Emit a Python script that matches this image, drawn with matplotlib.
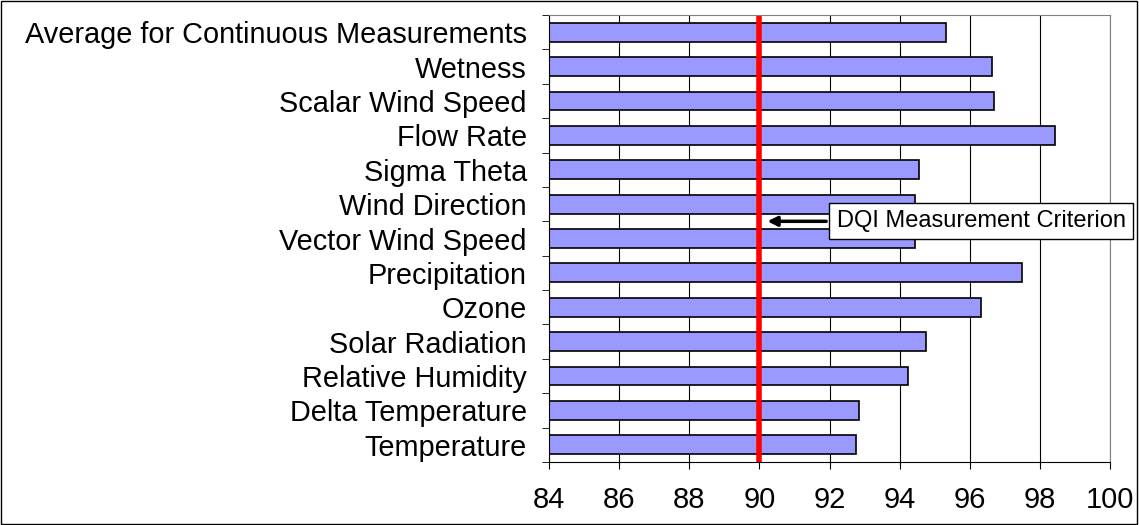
import matplotlib
matplotlib.use("Agg")
import matplotlib.pyplot as plt

categories = ["Temperature", "Delta Temperature", "Relative Humidity", "Solar Radiation",
              "Ozone", "Precipitation", "Vector Wind Speed", "Wind Direction",
              "Sigma Theta", "Flow Rate", "Scalar Wind Speed", "Wetness",
              "Average for Continuous Measurements"]
values = [92.75, 92.84, 94.24, 94.76, 96.31, 97.49, 94.45, 94.45,
          94.56, 98.43, 96.68, 96.63, 95.31]
criterion = 90

plt.rcParams['font.family'] = ['Liberation Sans', 'DejaVu Sans']
fig = plt.figure(figsize=(11.39, 5.25), dpi=100)
ax = fig.add_axes([549/1139, 1-462/525, (1110-549)/1139, (462-15)/525])
ax.set_axisbelow(True)
ax.xaxis.grid(True, color='black', linewidth=0.8)
y = list(range(len(categories)))
ax.barh(y, [v-84 for v in values], left=84, height=0.55, color='#9999ff', edgecolor='black', linewidth=1.2)
ax.set_xlim(84, 100)
ax.set_ylim(-0.5, len(categories)-0.5)
ax.set_xticks(range(84, 101, 2))
ax.set_yticks(y)
ax.set_yticklabels(categories)
ax.set_yticks([i+0.5 for i in range(-1, len(categories))], minor=True)
ax.tick_params(axis='y', which='major', length=0, labelsize=20.8, pad=16)
ax.tick_params(axis='y', which='minor', length=5)
ax.tick_params(axis='x', labelsize=21, length=5, pad=12)
for s in ['top', 'right']:
    ax.spines[s].set_color('#808080')
ax.axvline(criterion, color='red', linewidth=4)
ax.annotate("DQI Measurement Criterion", xy=(criterion+0.15, 6.5), xytext=(92.2, 6.5),
            fontsize=17, va='center', ha='left', annotation_clip=False,
            bbox=dict(boxstyle='square,pad=0.3', fc='white', ec='black', lw=1),
            arrowprops=dict(arrowstyle='-|>', color='black', lw=2.5, mutation_scale=14))
fig.patches.append(plt.Rectangle((0.001, 0.002), 0.997, 0.996, transform=fig.transFigure,
                                 fill=False, ec='black', lw=1))
fig.savefig("out.png", dpi=100)
